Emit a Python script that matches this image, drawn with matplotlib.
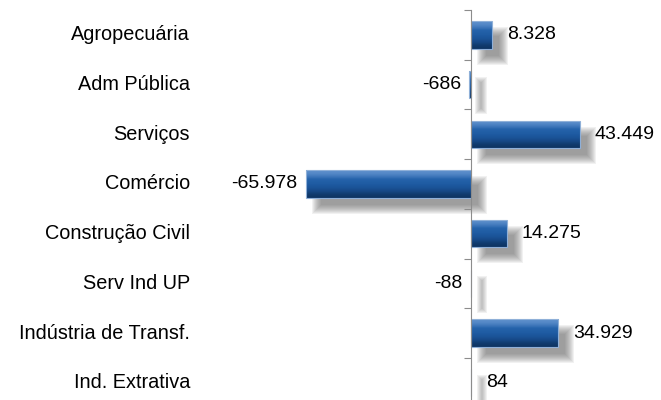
import matplotlib
matplotlib.use('Agg')
import matplotlib.pyplot as plt
import matplotlib.transforms as mtransforms
from matplotlib.patches import Rectangle
import numpy as np

plt.rcParams['font.family'] = ['Liberation Sans', 'DejaVu Sans']

# data (Brazilian number format in labels)
setores = ['Agropecuária', 'Adm Pública', 'Serviços', 'Comércio',
           'Construção Civil', 'Serv Ind UP', 'Indústria de Transf.', 'Ind. Extrativa']
saldo = [8328, -686, 43449, -65978, 14275, -88, 34929, 84]


def fmt_br(v):
    return '{:,}'.format(v).replace(',', '.')


fig = plt.figure(figsize=(6.61, 4.00), dpi=100)
ax = fig.add_axes([200 / 661, -0.019, 455 / 661, 0.994])

# zero at ~471 px, ~400 units per pixel
ax.set_xlim(-108400, 73600)
ax.set_ylim(7.5, -0.5)

h = 0.55
px = 400.0            # data units per horizontal pixel
py = 1 / 49.7         # category units per vertical pixel

# vertical gradient for the bevelled bars
grad = np.array([0.0, 0.12, 0.3, 0.55, 0.8, 1.0]).reshape(-1, 1)
cmap = matplotlib.colors.LinearSegmentedColormap.from_list(
    'bev', ['#5d8fcc', '#2563ab', '#1f5ca3', '#1b5499', '#164885', '#0e3563'])

for i, v in enumerate(saldo):
    x0 = min(0, v)
    w = abs(v)
    # blurred shadow
    sx = x0 + 11 * px
    sy = i - h / 2 + 11 * py
    for k in range(10):
        e = 5 - k * 1.0
        if w + 2 * e * px <= 0:
            continue
        ax.add_patch(Rectangle((sx - e * px, sy - e * py), w + 2 * e * px, h + 2 * e * py,
                               facecolor='#666666', edgecolor='none', alpha=0.09, zorder=1))

    # bar with gradient fill
    rect = Rectangle((x0, i - h / 2), w, h, facecolor='none', edgecolor='#8fb0d8',
                     linewidth=0.8, zorder=3)
    ax.add_patch(rect)
    im = ax.imshow(grad, cmap=cmap, aspect='auto', interpolation='bicubic',
                   extent=(x0, x0 + w, i + h / 2, i - h / 2), zorder=2)
    im.set_clip_path(rect)

    # value labels
    if v >= 0:
        ax.annotate(fmt_br(v), (v, i), xytext=(11, 0), textcoords='offset points',
                    ha='left', va='center', fontsize=14)
    else:
        ax.annotate(fmt_br(v), (v, i), xytext=(-6, 0), textcoords='offset points',
                    ha='right', va='center', fontsize=14)

# category labels, right aligned at a fixed figure position
trans = mtransforms.blended_transform_factory(fig.transFigure, ax.transData)
for i, s in enumerate(setores):
    ax.text(190 / 661, i, s, transform=trans, ha='right', va='center', fontsize=14.3)

# axis at zero with tick marks between categories
for sp in ['top', 'right', 'bottom']:
    ax.spines[sp].set_visible(False)
ax.spines['left'].set_position(('data', 0))
ax.spines['left'].set_color('#8c8c8c')
ax.spines['left'].set_zorder(4)
ax.set_xticks([])
ax.set_yticks(np.arange(-0.5, 8.0, 1.0))
ax.set_yticklabels([])
ax.tick_params(axis='y', direction='out', length=5, color='#8c8c8c', width=0.8)
ax.set_facecolor('none')

fig.savefig('out.png', dpi=100)
